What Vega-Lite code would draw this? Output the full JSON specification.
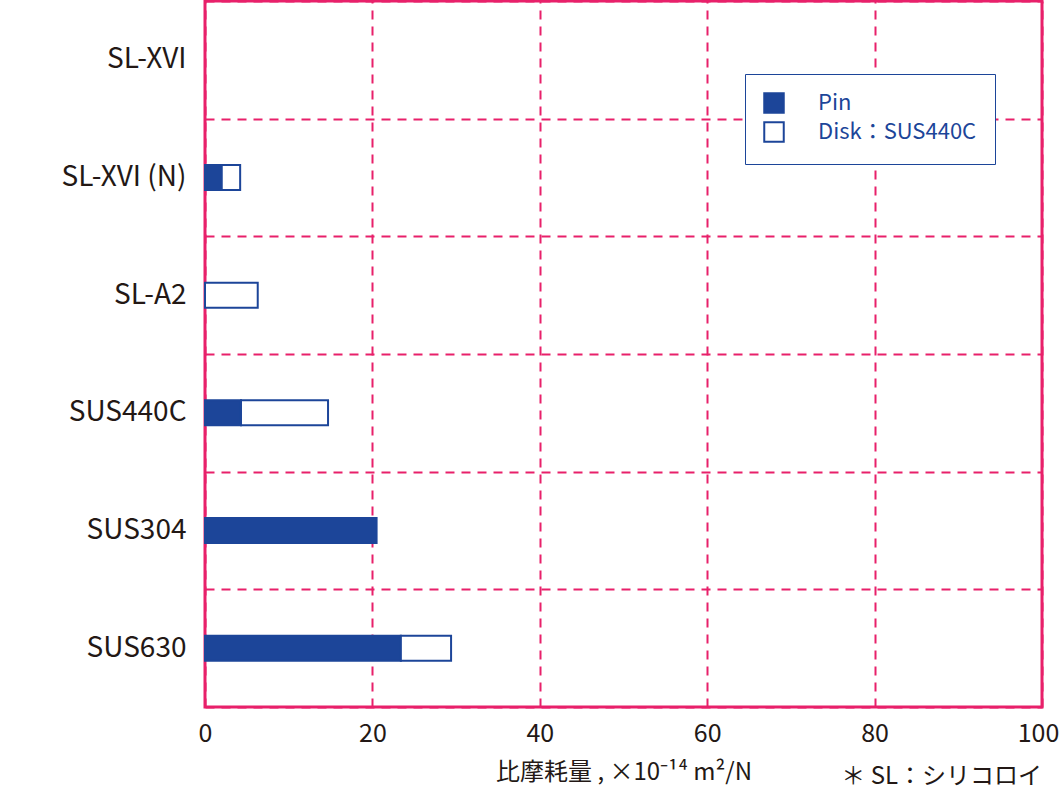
{
  "$schema": "https://vega.github.io/schema/vega-lite/v6.json",
  "width": 837,
  "height": 706,
  "autosize": {"type": "none"},
  "padding": {"left": 205, "top": 1, "right": 18, "bottom": 83},
  "background": "white",
  "title": {
    "text": "＊ SL：シリコロイ",
    "orient": "bottom",
    "anchor": "end",
    "frame": "group",
    "offset": -19,
    "fontSize": 24,
    "fontWeight": "normal",
    "font": "Noto Sans CJK JP",
    "color": "#231815"
  },
  "data": {
    "values": [
      {"material": "SL-XVI (N)", "part": "Pin", "ord": 1, "value": 2.0},
      {"material": "SL-XVI (N)", "part": "Disk：SUS440C", "ord": 2, "value": 2.2},
      {"material": "SL-A2", "part": "Disk：SUS440C", "ord": 2, "value": 6.3},
      {"material": "SUS440C", "part": "Pin", "ord": 1, "value": 4.3},
      {"material": "SUS440C", "part": "Disk：SUS440C", "ord": 2, "value": 10.4},
      {"material": "SUS304", "part": "Pin", "ord": 1, "value": 20.5},
      {"material": "SUS630", "part": "Pin", "ord": 1, "value": 23.4},
      {"material": "SUS630", "part": "Disk：SUS440C", "ord": 2, "value": 6.0}
    ]
  },
  "mark": {"type": "bar", "size": 25, "stroke": "#1c4599", "strokeWidth": 2},
  "encoding": {
    "y": {
      "field": "material",
      "type": "nominal",
      "scale": {
        "domain": ["SL-XVI", "SL-XVI (N)", "SL-A2", "SUS440C", "SUS304", "SUS630"],
        "paddingInner": 0,
        "paddingOuter": 0
      },
      "axis": {
        "title": null,
        "domain": false,
        "ticks": false,
        "tickBand": "extent",
        "grid": true,
        "gridColor": "#e8206a",
        "gridWidth": 2,
        "gridDash": [9, 7],
        "labelFontSize": 28,
        "labelPadding": 19,
        "labelColor": "#231815",
        "labelFont": "Noto Sans CJK JP"
      }
    },
    "x": {
      "field": "value",
      "type": "quantitative",
      "stack": "zero",
      "scale": {"domain": [0, 100], "nice": false},
      "axis": {
        "values": [0, 20, 40, 60, 80, 100],
        "title": "比摩耗量 , ×10⁻¹⁴ m²/N",
        "titleFontSize": 24,
        "titleFontWeight": "normal",
        "titleColor": "#231815",
        "titleFont": "Noto Sans CJK JP",
        "titlePadding": 14,
        "domain": false,
        "ticks": false,
        "grid": true,
        "gridColor": "#e8206a",
        "gridWidth": 2,
        "gridDash": [9, 7],
        "labelFlush": false,
        "labelOffset": {"expr": "datum.value == 100 ? -4 : 0"},
        "labelFontSize": 25,
        "labelPadding": 14,
        "labelColor": "#231815",
        "labelFont": "Noto Sans CJK JP"
      }
    },
    "color": {
      "field": "part",
      "type": "nominal",
      "scale": {"domain": ["Pin", "Disk：SUS440C"], "range": ["#1c4599", "#ffffff"]},
      "legend": {
        "title": null,
        "orient": "none",
        "legendX": 540,
        "legendY": 73,
        "padding": 18,
        "strokeColor": "#1c4599",
        "fillColor": "white",
        "symbolType": "square",
        "symbolSize": 380,
        "symbolStrokeColor": "#1c4599",
        "symbolStrokeWidth": 2,
        "labelFontSize": 22,
        "labelColor": "#1c4599",
        "labelFont": "Noto Sans CJK JP",
        "labelOffset": 33,
        "rowPadding": 1
      }
    },
    "order": {"field": "ord", "type": "quantitative"}
  },
  "config": {
    "view": {"stroke": "#e8206a", "strokeWidth": 3}
  }
}
